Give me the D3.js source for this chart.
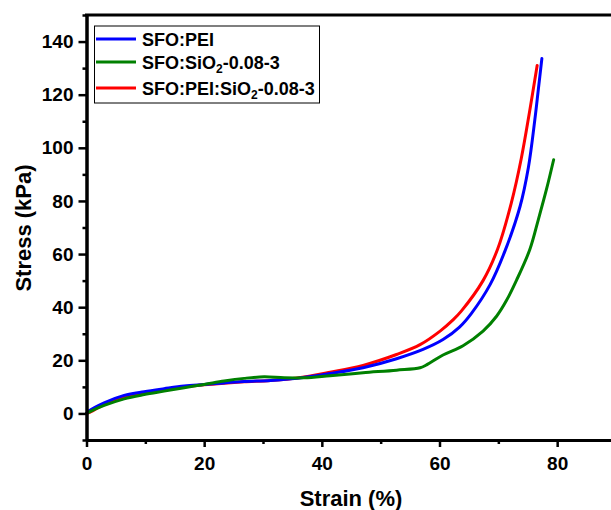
<!DOCTYPE html>
<html>
<head>
<meta charset="utf-8">
<script src="https://cdn.jsdelivr.net/npm/d3@7"></script>
<style>
  html, body { margin: 0; padding: 0; background: #fff; }
  svg { display: block; }
  text { font-family: "Liberation Sans", Arial, sans-serif; font-weight: bold; fill: #000; }
</style>
</head>
<body>
<svg id="chart" width="611" height="510"></svg>
<script>
// ---- data ----
const seriesNames = ["SFO:PEI", "SFO:SiO2-0.08-3", "SFO:PEI:SiO2-0.08-3"];

const blueX = [0, 0.4, 3.0, 6.4, 9.8, 13.2, 16.6, 20.0, 23.4, 26.8, 31.3, 35.8, 41.4, 47.0, 52.7, 57.2, 60.6, 63.4, 65.4, 68.6, 71.1, 73.7, 75.1, 76.2, 76.8, 77.4];
const blueY = [0, 0.9, 4.0, 6.8, 8.2, 9.3, 10.3, 10.9, 11.5, 12.0, 12.4, 13.2, 15.0, 17.2, 20.6, 24.1, 27.8, 32.5, 37.6, 48.5, 61.0, 78.0, 92.5, 110.5, 122.0, 133.6];

const redX = [0, 0.4, 3.0, 6.4, 9.8, 13.2, 16.6, 20.0, 23.4, 26.8, 31.3, 35.8, 41.4, 47.0, 52.7, 56.7, 60.1, 62.3, 63.7, 67.4, 69.9, 72.2, 73.9, 75.3, 76.6];
const redY = [0, 0.3, 3.3, 6.2, 7.8, 9.0, 10.0, 10.8, 11.4, 11.9, 12.4, 13.3, 15.5, 18.1, 22.2, 25.9, 31.0, 35.2, 38.5, 50.0, 62.0, 79.2, 96.0, 113.5, 131.0];

const greenX = [0, 0.4, 3.0, 6.4, 9.8, 13.2, 16.6, 20.0, 23.4, 26.8, 30.2, 33.6, 37.0, 41.4, 47.0, 52.7, 56.7, 57.8, 60.6, 64.0, 67.4, 69.7, 71.4, 73.1, 75.35, 76.8, 78.2, 79.4];
const greenY = [0, 0.5, 3.0, 5.5, 7.1, 8.4, 9.7, 10.9, 12.2, 13.2, 13.8, 13.4, 13.4, 14.2, 15.3, 16.3, 17.2, 18.3, 22.0, 25.5, 31.0, 36.6, 42.6, 50.2, 61.7, 73.0, 84.5, 95.5];

const xMajorTicks = [0, 20, 40, 60, 80];
const xMinorTicks = [10, 30, 50, 70, 90];
const yMajorTicks = [0, 20, 40, 60, 80, 100, 120, 140];
const yMinorTicks = [-10, 10, 30, 50, 70, 90, 110, 130, 150];

const xTitle = "Strain (%)";
const yTitle = "Stress (kPa)";

// ---- drawing ----
const svg = d3.select("#chart");
const x = d3.scaleLinear().domain([0, 90]).range([86.5, 616]);
const y = d3.scaleLinear().domain([-10, 150]).range([440, 15]);

const zip = (xs, ys) => xs.map((v, i) => [v, ys[i]]);
const series = [
  { name: seriesNames[0], color: "#0000ff", data: zip(blueX, blueY) },
  { name: seriesNames[1], color: "#008000", data: zip(greenX, greenY) },
  { name: seriesNames[2], color: "#ff0000", data: zip(redX, redY) }
];

const line = d3.line().x(d => x(d[0])).y(d => y(d[1])).curve(d3.curveCatmullRom.alpha(0.5));

// draw order: red, blue, green
[2, 0, 1].forEach(i => {
  svg.append("path")
    .datum(series[i].data)
    .attr("fill", "none")
    .attr("stroke", series[i].color)
    .attr("stroke-width", 3)
    .attr("stroke-linejoin", "round")
    .attr("stroke-linecap", "round")
    .attr("d", line);
});

// axes
const axStroke = 3;
function styleAxis(g, fontSize) {
  g.selectAll(".domain").attr("stroke", "#000").attr("stroke-width", axStroke);
  g.selectAll(".tick line").attr("stroke", "#000").attr("stroke-width", 2.5);
  g.selectAll(".tick text").style("font-size", fontSize + "px").style("font-family", "'Liberation Sans', Arial, sans-serif").style("font-weight", "bold");
}

const xMinor = svg.append("g").attr("transform", `translate(0,${y(-10)})`)
  .call(d3.axisBottom(x).tickValues(xMinorTicks).tickSize(4).tickFormat("").tickSizeOuter(0));
styleAxis(xMinor, 19);
const xMajor = svg.append("g").attr("transform", `translate(0,${y(-10)})`)
  .call(d3.axisBottom(x).tickValues(xMajorTicks).tickSize(7).tickPadding(10).tickSizeOuter(0).tickFormat(d3.format("d")));
styleAxis(xMajor, 19);

const yMinor = svg.append("g").attr("transform", `translate(${x(0)},0)`)
  .call(d3.axisLeft(y).tickValues(yMinorTicks).tickSize(4).tickFormat("").tickSizeOuter(0));
styleAxis(yMinor, 19);
const yMajor = svg.append("g").attr("transform", `translate(${x(0)},0)`)
  .call(d3.axisLeft(y).tickValues(yMajorTicks).tickSize(8).tickPadding(5).tickSizeOuter(0).tickFormat(d3.format("d")));
styleAxis(yMajor, 19);

// top frame
svg.append("line")
  .attr("x1", x(0) - 1.5).attr("x2", x(90))
  .attr("y1", y(150)).attr("y2", y(150))
  .attr("stroke", "#000").attr("stroke-width", axStroke);

// axis titles
svg.append("text").attr("x", 351).attr("y", 506).attr("text-anchor", "middle")
  .style("font-size", "22px").text(xTitle);
svg.append("text").attr("transform", "translate(31,228) rotate(-90)").attr("text-anchor", "middle")
  .style("font-size", "22px").text(yTitle);

// legend
const lg = svg.append("g");
lg.append("rect").attr("x", 94.5).attr("y", 26).attr("width", 225).attr("height", 77)
  .attr("fill", "#fff").attr("stroke", "#000").attr("stroke-width", 1);
const rowY = [39, 62, 88];
const legendOrder = [0, 1, 2];
legendOrder.forEach((si, r) => {
  const s = series[si];
  lg.append("line").attr("x1", 96).attr("x2", 136).attr("y1", rowY[r]).attr("y2", rowY[r])
    .attr("stroke", s.color).attr("stroke-width", 3);
  const t = lg.append("text").attr("x", 142).attr("y", rowY[r] + 6.5).style("font-size", "18px");
  const parts = s.name.split("SiO2");
  if (parts.length === 1) {
    t.text(s.name);
  } else {
    t.append("tspan").text(parts[0] + "SiO");
    t.append("tspan").attr("dy", 4).style("font-size", "12px").text("2");
    t.append("tspan").attr("dy", -4).text(parts[1]);
  }
});
</script>
</body>
</html>
